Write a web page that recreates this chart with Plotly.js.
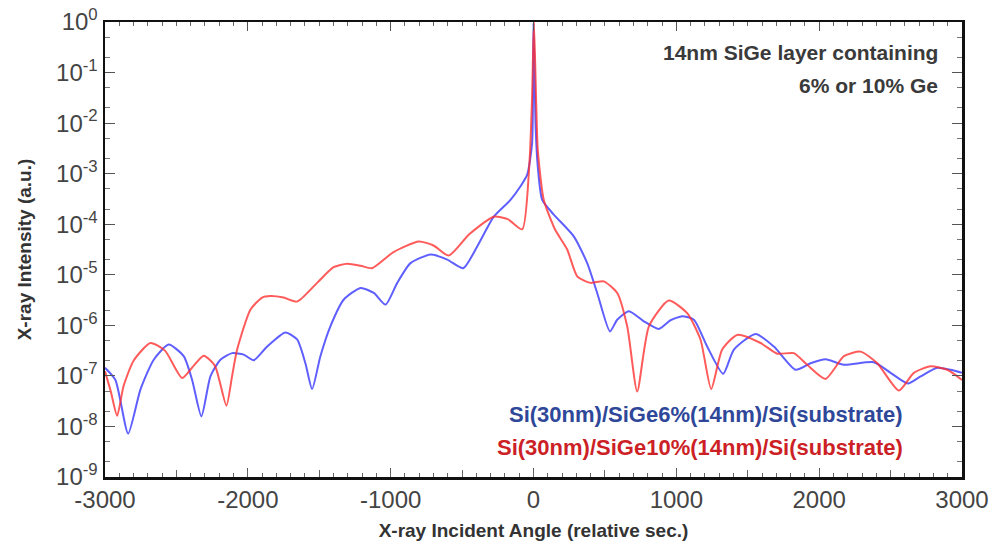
<!DOCTYPE html>
<html>
<head>
<meta charset="utf-8">
<script src="https://cdn.plot.ly/plotly-3.0.1.min.js"></script>
<style>html,body{margin:0;padding:0;background:#fff;}#chart{width:995px;height:550px;}</style>
</head>
<body>
<div id="chart"></div>
<script>
// Si(30nm)/SiGe6%(14nm)/Si(substrate)  (blue)
const blueAngle = [-3000,-2927,-2838,-2752,-2659,-2554,-2449,-2390,-2325,-2262,-2192,-2110,-2029,-1959,-1865,-1737,-1655,-1597,-1550,-1492,-1422,-1328,-1211,-1118,-1036,-954,-861,-721,-604,-492,-394,-278,-161,-91,-44,-10,0,15,30,61,142,282,376,446,535,586,668,773,877,959,1041,1123,1216,1328,1403,1555,1683,1835,1940,2045,2173,2383,2500,2621,2710,2827,2920,3000];
const blueIntensity = [1.45e-7,8.32e-8,7.24e-9,5.37e-8,2.09e-7,4.17e-7,2.45e-7,8.32e-8,1.58e-8,9.77e-8,2.09e-7,2.82e-7,2.63e-7,2.04e-7,3.80e-7,7.24e-7,5.25e-7,1.78e-7,5.50e-8,2.45e-7,9.55e-7,3.24e-6,5.50e-6,4.37e-6,2.57e-6,6.92e-6,1.70e-5,2.51e-5,2.0e-5,1.35e-5,3.63e-5,1.41e-4,3.02e-4,5.62e-4,9.55e-4,3.98e-3,0.95,8.51e-3,1.38e-3,3.02e-4,1.55e-4,5.75e-5,1.70e-5,4.37e-6,7.59e-7,1.29e-6,1.91e-6,1.20e-6,8.51e-7,1.26e-6,1.51e-6,1.29e-6,3.80e-7,1.10e-7,3.31e-7,6.76e-7,3.80e-7,1.32e-7,1.78e-7,2.14e-7,1.66e-7,1.86e-7,1.15e-7,7.08e-8,9.77e-8,1.45e-7,1.32e-7,1.15e-7];

// Si(30nm)/SiGe10%(14nm)/Si(substrate)  (red)
const redAngle = [-3000,-2960,-2915,-2870,-2800,-2682,-2580,-2460,-2380,-2309,-2230,-2150,-2110,-2075,-1982,-1900,-1842,-1750,-1655,-1515,-1400,-1305,-1210,-1130,-980,-803,-700,-593,-450,-278,-180,-79,-30,-10,3,18,30,72,150,236,306,399,492,586,656,726,808,947,1076,1169,1244,1321,1426,1590,1706,1823,1916,2045,2173,2290,2407,2558,2663,2780,2897,3000];
const redIntensity = [1.23e-7,5.0e-8,1.62e-8,6.3e-8,2.0e-7,4.47e-7,3.16e-7,9.1e-8,1.58e-7,2.51e-7,1.58e-7,2.57e-8,1.0e-7,3.31e-7,2.04e-6,3.55e-6,3.80e-6,3.55e-6,2.95e-6,6.92e-6,1.41e-5,1.66e-5,1.51e-5,1.35e-5,2.82e-5,4.57e-5,3.80e-5,2.40e-5,6.31e-5,1.41e-4,1.26e-4,7.94e-5,1.38e-3,3.16e-2,1.0,3.16e-2,2.95e-3,3.02e-4,7.94e-5,3.16e-5,9.33e-6,6.92e-6,7.41e-6,4.37e-6,9.55e-7,4.90e-8,9.55e-7,3.09e-6,1.74e-6,5.25e-7,5.50e-8,3.31e-7,6.46e-7,4.47e-7,2.75e-7,2.82e-7,1.66e-7,8.71e-8,2.45e-7,3.02e-7,1.78e-7,5.13e-8,1.15e-7,1.55e-7,1.32e-7,8.32e-8];

const xTickVals = [-3000,-2000,-1000,0,1000,2000,3000];
const xTickText = ['-3000','-2000','-1000','0','1000','2000','3000'];
const yTickVals = [1e-9,1e-8,1e-7,1e-6,1e-5,1e-4,1e-3,1e-2,1e-1,1];
const yTickText = ['10<sup>-9</sup>','10<sup>-8</sup>','10<sup>-7</sup>','10<sup>-6</sup>','10<sup>-5</sup>','10<sup>-4</sup>','10<sup>-3</sup>','10<sup>-2</sup>','10<sup>-1</sup>','10<sup>0</sup>'];

const blueName = 'Si(30nm)/SiGe6%(14nm)/Si(substrate)';
const redName = 'Si(30nm)/SiGe10%(14nm)/Si(substrate)';
const noteLine1 = '14nm SiGe layer containing';
const noteLine2 = '6% or 10% Ge';

const FAM = 'Liberation Sans, Arial, sans-serif';
const tickFont = {family:FAM, size:24, color:'#444'};
const titleFont = {family:FAM, size:19, color:'#333', weight:'bold'};

const traces = [
  {x: blueAngle, y: blueIntensity, type:'scatter', mode:'lines', name: blueName,
   line:{color:'rgba(50,50,255,0.78)', width:2, shape:'spline', smoothing:0.6}},
  {x: redAngle, y: redIntensity, type:'scatter', mode:'lines', name: redName,
   line:{color:'rgba(255,45,45,0.78)', width:2, shape:'spline', smoothing:0.6}},
  {x:[0], y:[1e-5], xaxis:'x2', type:'scatter', mode:'markers', marker:{opacity:0}, showlegend:false, hoverinfo:'skip'}
];

const layout = {
  width:995, height:550,
  margin:{l:105, r:33, t:22, b:73},
  paper_bgcolor:'#fff', plot_bgcolor:'#fff',
  showlegend:false,
  xaxis:{
    range:[-3000,3000], tickvals:xTickVals, ticktext:xTickText,
    ticks:'inside', ticklen:9, tickcolor:'#555', tickwidth:1,
    showline:true, linecolor:'#111', linewidth:2.5, mirror:'ticks',
    showgrid:false, zeroline:false, tickfont:tickFont,
    minor:{ticks:'inside', dtick:100, ticklen:4, tickcolor:'#666', showgrid:false},
    title:{text:'X-ray Incident Angle (relative sec.)', font:titleFont, standoff:12}
  },
  xaxis2:{
    overlaying:'x', range:[-3000,3000], dtick:500, tick0:0,
    ticks:'inside', ticklen:7, tickcolor:'#666', showticklabels:false,
    showgrid:false, zeroline:false, showline:false, side:'bottom', anchor:'y'
  },
  yaxis:{
    type:'log', range:[-9,0], tickvals:yTickVals, ticktext:yTickText,
    ticks:'inside', ticklen:10, tickcolor:'#555', tickwidth:1,
    showline:true, linecolor:'#111', linewidth:2.5, mirror:'ticks',
    showgrid:false, zeroline:false, tickfont:tickFont,
    minor:{ticks:'inside', ticklen:5, tickcolor:'#777', showgrid:false},
    title:{text:'X-ray Intensity (a.u.)', font:titleFont, standoff:20}
  },
  annotations:[
    {xref:'paper', yref:'paper', x:0.974, y:0.934, xanchor:'right', yanchor:'middle',
     text:noteLine1, showarrow:false, font:{family:FAM, size:21, color:'#3a3a3a', weight:'bold'}},
    {xref:'paper', yref:'paper', x:0.974, y:0.86, xanchor:'right', yanchor:'middle',
     text:noteLine2, showarrow:false, font:{family:FAM, size:21, color:'#3a3a3a', weight:'bold'}},
    {xref:'paper', yref:'paper', x:0.934, y:0.138, xanchor:'right', yanchor:'middle',
     text:blueName, showarrow:false, font:{family:FAM, size:22, color:'#2e4799', weight:'bold'}},
    {xref:'paper', yref:'paper', x:0.934, y:0.064, xanchor:'right', yanchor:'middle',
     text:redName, showarrow:false, font:{family:FAM, size:22, color:'#cc1f26', weight:'bold'}}
  ]
};

Plotly.newPlot('chart', traces, layout, {displayModeBar:false, staticPlot:true});
</script>
</body>
</html>
